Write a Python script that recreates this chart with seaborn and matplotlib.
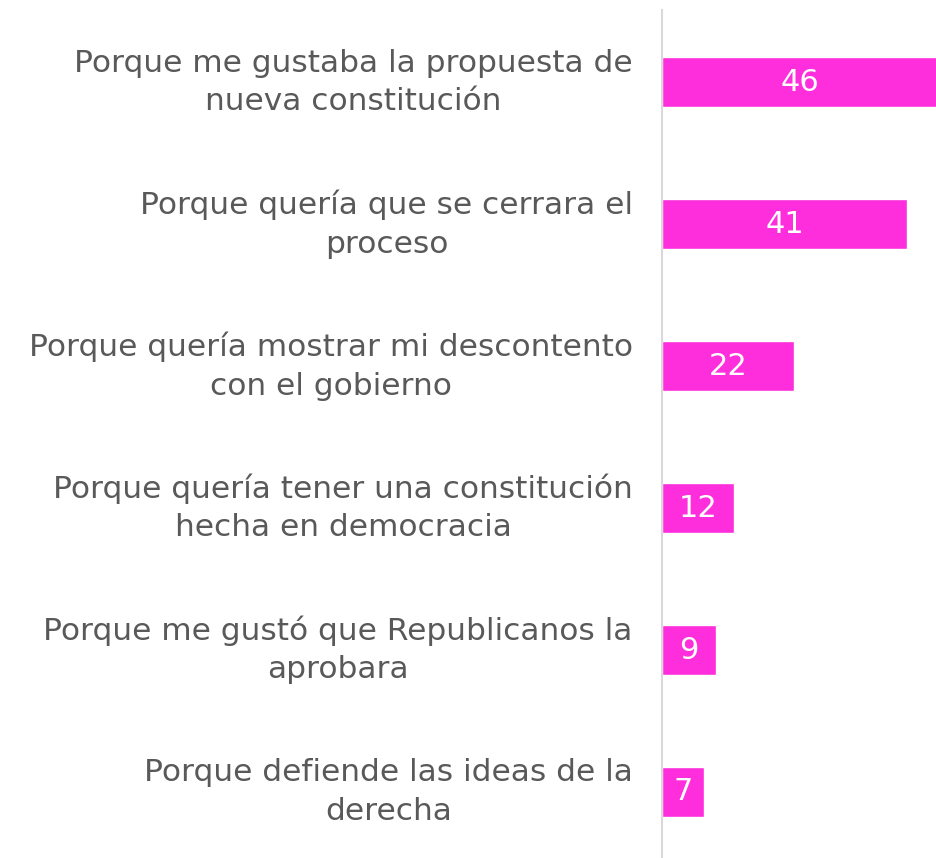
import matplotlib
matplotlib.use("Agg")
import matplotlib.pyplot as plt
import seaborn as sns
import pandas as pd

razones = [
    "Porque me gustaba la propuesta de\nnueva constitución",
    "Porque quería que se cerrara el\nproceso",
    "Porque quería mostrar mi descontento\ncon el gobierno",
    "Porque quería tener una constitución\nhecha en democracia",
    "Porque me gustó que Republicanos la\naprobara",
    "Porque defiende las ideas de la\nderecha",
]
valores = [46, 41, 22, 12, 9, 7]

df = pd.DataFrame({"razon": razones, "valor": valores})

sns.set_theme(style="white")
plt.rcParams["font.family"] = ["DejaVu Sans"]

fig = plt.figure(figsize=(9.37, 8.58), dpi=100)
ax = fig.add_axes([0.7065, 0.0, 0.2935, 0.988])

sns.barplot(data=df, x="valor", y="razon", color="#FF2EDC", saturation=1,
            width=0.35, ax=ax)

# etiquetas de valor dentro de cada barra
for i, v in enumerate(valores):
    ax.text(v / 2, i, str(v), ha="center", va="center", color="white", fontsize=22)

ax.set_xlim(0, 46)
ax.set_ylim(5.465, -0.507)
ax.set_xlabel("")
ax.set_ylabel("")
ax.set_xticks([])
ax.tick_params(axis="y", length=0, pad=21, labelsize=22.5, labelcolor="#595959")
for lbl in ax.get_yticklabels():
    lbl.set_horizontalalignment("right")
    lbl.set_verticalalignment("center")
    lbl.set_multialignment("center")
    lbl.set_linespacing(1.4)

for s in ["top", "right", "bottom"]:
    ax.spines[s].set_visible(False)
ax.spines["left"].set_color("#d9d9d9")
ax.spines["left"].set_linewidth(1.5)

fig.savefig("out.png", dpi=100)
plt.close(fig)
